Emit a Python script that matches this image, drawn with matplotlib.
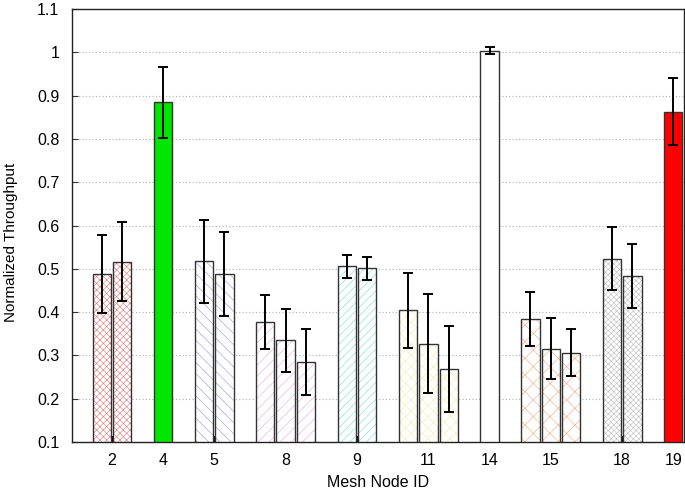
import matplotlib.pyplot as plt

plt.rcParams['font.family'] = ['Liberation Sans', 'DejaVu Sans']
plt.rcParams['hatch.linewidth'] = 0.45

# node ids and per-node bar values / error half-widths
node_ids = ['2', '4', '5', '8', '9', '11', '14', '15', '18', '19']
values = [
    [0.488, 0.516],
    [0.884],
    [0.517, 0.489],
    [0.378, 0.335, 0.285],
    [0.506, 0.501],
    [0.404, 0.327, 0.269],
    [1.003],
    [0.384, 0.316, 0.306],
    [0.523, 0.483],
    [0.863],
]
errors = [
    [0.090, 0.091],
    [0.081],
    [0.095, 0.097],
    [0.062, 0.073, 0.076],
    [0.027, 0.026],
    [0.087, 0.114, 0.100],
    [0.008],
    [0.062, 0.071, 0.054],
    [0.073, 0.074],
    [0.078],
]
face_colors = ['white', '#00e600', 'white', 'white', 'white', 'white', 'white', 'white', 'white', '#ff0000']
hatch_colors = ['#e88080', None, '#a0a0e0', '#eab0e0', '#80e0e0', '#f0f0b0', None, '#f4b090', '#c4c4c4', None]
hatches = ['xxxxx', None, '\\\\\\', '///', '////', 'xxx', None, 'xx', 'xxxxxx', None]

BAR_W = 0.9

fig = plt.figure(figsize=(6.85, 4.94), dpi=100)
ax = fig.add_axes([0.105, 0.105, 0.8935, 0.877])

pos = 0
tick_pos = []
for vals, errs, fc, hc, h in zip(values, errors, face_colors, hatch_colors, hatches):
    xs = [pos + i for i in range(len(vals))]
    tick_pos.append((xs[0] + xs[-1]) / 2)
    if h is not None:
        ax.bar(xs, vals, BAR_W, bottom=0, color='white', edgecolor=hc,
               hatch=h, linewidth=0, zorder=2)
    else:
        ax.bar(xs, vals, BAR_W, color=fc, linewidth=0, zorder=2)
    ax.bar(xs, vals, BAR_W, fill=False, edgecolor='#333333', linewidth=1.0, zorder=3)
    ax.errorbar(xs, vals, yerr=errs, fmt='none', ecolor='black', elinewidth=1.4,
                capsize=3.5, capthick=1.4, zorder=4)
    pos = xs[-1] + 2

ax.set_xlim(-1.47, 28.53)
ax.set_ylim(0.1, 1.1)
ax.set_yticks([0.1, 0.2, 0.3, 0.4, 0.5, 0.6, 0.7, 0.8, 0.9, 1.0, 1.1])
ax.set_yticklabels(['0.1', '0.2', '0.3', '0.4', '0.5', '0.6', '0.7', '0.8', '0.9', '1', '1.1'])
ax.set_xticks(tick_pos)
ax.set_xticklabels(node_ids)
ax.tick_params(axis='x', direction='in', length=4, width=1.5, color='black',
               labelsize=11.5, pad=8)
ax.tick_params(axis='y', direction='in', length=4, width=0.8, color='#333333',
               labelsize=11.5, pad=9)
ax.yaxis.grid(True, linestyle=(0, (1, 2)), color='#b0b0b0', linewidth=0.8, zorder=0)
ax.set_axisbelow(True)
for s in ax.spines.values():
    s.set_linewidth(1.0)
    s.set_color('#222222')

ax.set_xlabel('Mesh Node ID', fontsize=11.5, labelpad=5)
ax.set_ylabel('Normalized Throughput', fontsize=11)
ax.yaxis.set_label_coords(-0.088, 0.462)

fig.savefig('out.png', dpi=100)
